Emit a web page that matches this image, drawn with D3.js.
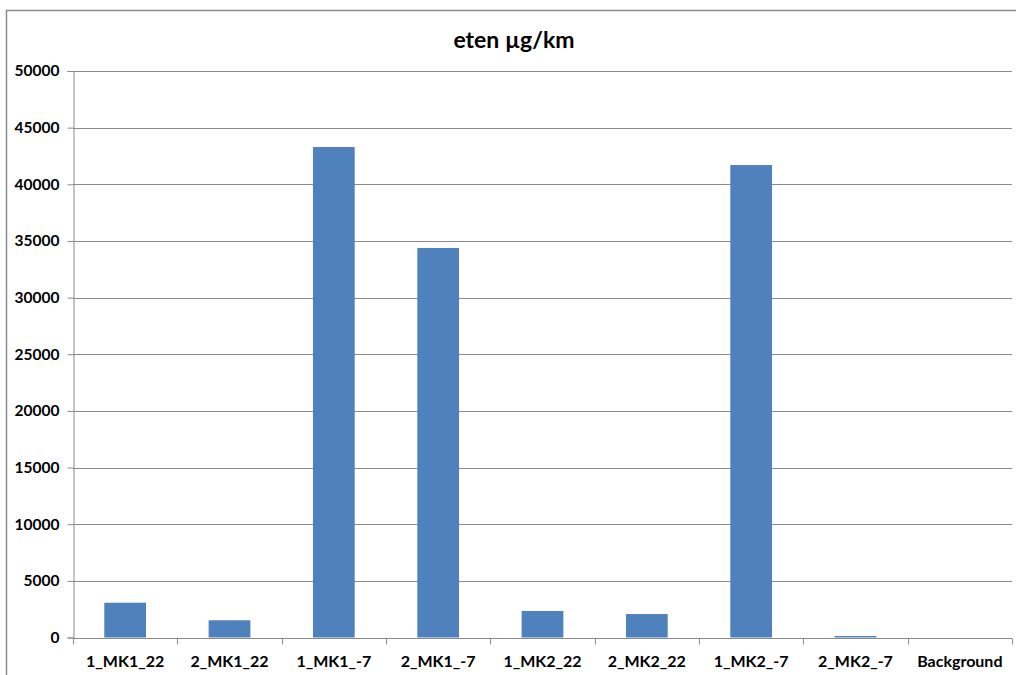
<!DOCTYPE html>
<html>
<head>
<meta charset="utf-8">
<script src="https://cdn.jsdelivr.net/npm/d3@7"></script>
<style>
  html, body { margin: 0; padding: 0; background: #fff; }
  svg { display: block; }
  text { font-family: Lato, "Open Sans", sans-serif; font-weight: bold; fill: #000; }
</style>
</head>
<body>
<svg id="chart" width="1016" height="675"></svg>
<script>
// Ethene emissions per test run (µg/km)
const categories = ["1_MK1_22", "2_MK1_22", "1_MK1_-7", "2_MK1_-7", "1_MK2_22", "2_MK2_22", "1_MK2_-7", "2_MK2_-7", "Background"];
const values = [3070, 1520, 43290, 34380, 2340, 2070, 41700, 130, 0];
const yTicks = [0, 5000, 10000, 15000, 20000, 25000, 30000, 35000, 40000, 45000, 50000];
const title = "eten µg/km";

const svg = d3.select("#chart");
const W = 1016, H = 675;
const plot = { left: 73, right: 1012, top: 71, bottom: 637.5 };

// chart frame
svg.append("path")
  .attr("d", `M6.5,${H} V10.5 H${W}`)
  .attr("fill", "none")
  .attr("stroke", "#8c8c8c")
  .attr("stroke-width", 1.5);

const x = d3.scaleBand()
  .domain(categories)
  .range([plot.left, plot.right])
  .paddingInner(0.6)
  .paddingOuter(0.3);

const xBands = d3.scaleBand()
  .domain(categories)
  .range([plot.left, plot.right]);

const y = d3.scaleLinear()
  .domain([0, 50000])
  .range([plot.bottom, plot.top]);

// horizontal gridlines
svg.append("g")
  .selectAll("line")
  .data(yTicks.filter(d => d > 0))
  .join("line")
  .attr("x1", plot.left)
  .attr("x2", plot.right)
  .attr("y1", d => Math.round(y(d)) + 0.5)
  .attr("y2", d => Math.round(y(d)) + 0.5)
  .attr("stroke", "#8a8a8a")
  .attr("stroke-width", 1);

// y axis
const yAxis = svg.append("g")
  .attr("transform", `translate(${plot.left + 0.5},0)`)
  .call(d3.axisLeft(y).tickValues(yTicks).tickFormat(d3.format("d")).tickSize(6).tickPadding(8));
yAxis.select(".domain").attr("stroke", "#8a8a8a");
yAxis.selectAll(".tick line").attr("stroke", "#8a8a8a");
yAxis.selectAll("text")
  .style("font-size", "15.5px")
  .style("font-family", "Lato, sans-serif")
  .style("font-weight", "bold")
  .attr("fill", "#000");

// bars
svg.append("g")
  .selectAll("rect")
  .data(categories.map((c, i) => ({ c, v: values[i] })))
  .join("rect")
  .attr("x", d => x(d.c))
  .attr("width", x.bandwidth())
  .attr("y", d => y(d.v))
  .attr("height", d => y(0) - y(d.v))
  .attr("fill", "#4f81bd");

// x axis with ticks between categories
const xg = svg.append("g")
  .attr("transform", `translate(0,${Math.round(plot.bottom) + 0.5})`);
xg.append("line")
  .attr("x1", plot.left).attr("x2", plot.right)
  .attr("stroke", "#8a8a8a");
const bounds = categories.map(c => xBands(c)).concat([plot.right]);
xg.selectAll("line.tk")
  .data(bounds)
  .join("line")
  .attr("class", "tk")
  .attr("x1", d => Math.round(d) + 0.5)
  .attr("x2", d => Math.round(d) + 0.5)
  .attr("y1", 0).attr("y2", 6)
  .attr("stroke", "#8a8a8a");
xg.selectAll("text")
  .data(categories)
  .join("text")
  .attr("x", d => xBands(d) + xBands.bandwidth() / 2)
  .attr("y", 28)
  .attr("text-anchor", "middle")
  .style("font-size", "16px")
  .text(d => d);

// title
svg.append("text")
  .attr("x", 514)
  .attr("y", 48)
  .attr("text-anchor", "middle")
  .style("font-size", "23px")
  .text(title);
</script>
</body>
</html>
